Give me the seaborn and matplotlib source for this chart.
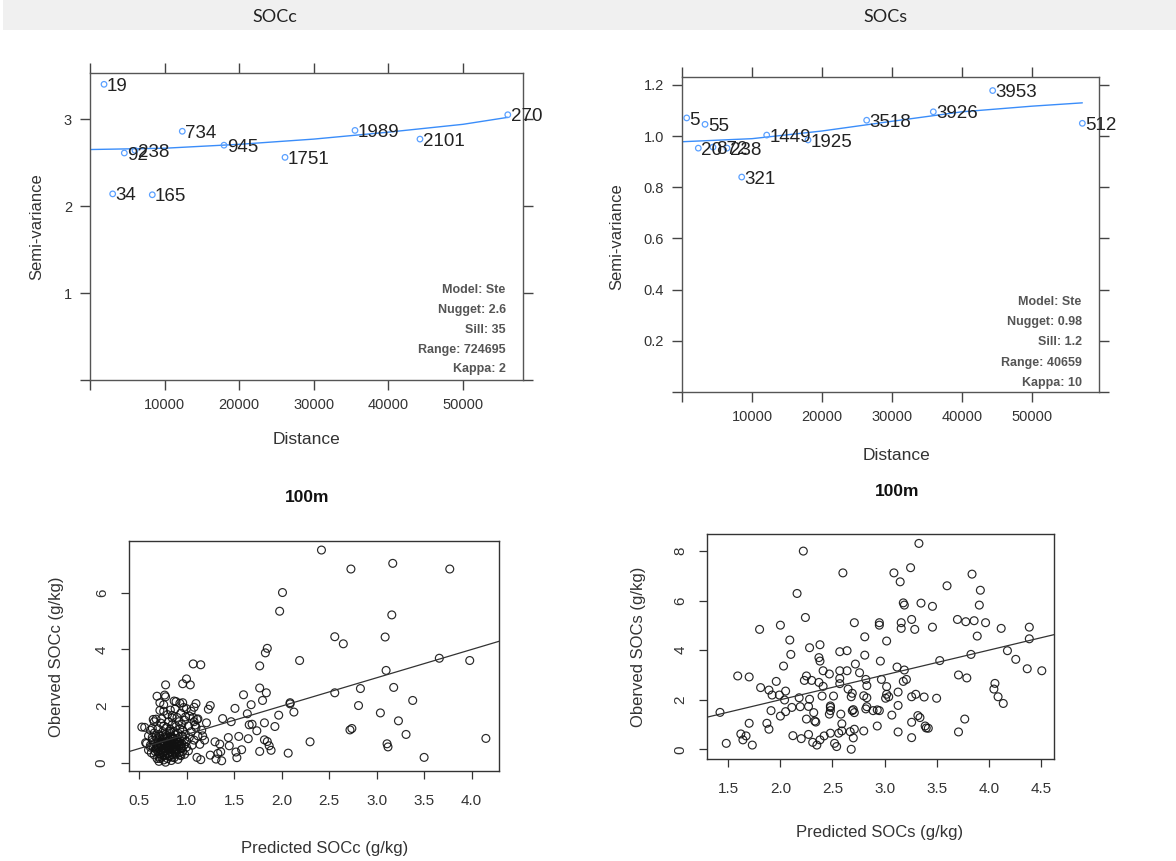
import numpy as np
import pandas as pd
import matplotlib
matplotlib.use("Agg")
import matplotlib.pyplot as plt
from matplotlib.patches import Rectangle
import seaborn as sns

# ---------------- DATA ----------------
panel_titles = ["SOCc", "SOCs"]

# Variogram SOCc
vc_dist = [1880, 3040, 4600, 6030, 8350, 12370, 17960, 26140, 35520, 44230, 56000]
vc_gamma = [3.40, 2.14, 2.61, 2.64, 2.13, 2.86, 2.70, 2.56, 2.87, 2.77, 3.05]
vc_npairs = ["19", "34", "92", "238", "165", "734", "945", "1751", "1989", "2101", "270"]
vc_model_x = [0, 10000, 20000, 30000, 40000, 50000, 56000]
vc_model_y = [2.65, 2.665, 2.71, 2.77, 2.85, 2.94, 3.02]
vc_info = ["Model: Ste", "Nugget: 2.6", "Sill: 35", "Range: 724695", "Kappa: 2"]

# Variogram SOCs
vs_dist = [670, 3290, 2330, 4430, 6430, 8530, 12100, 18000, 26380, 35900, 44380, 57190]
vs_gamma = [1.071, 1.046, 0.953, 0.957, 0.953, 0.84, 1.004, 0.985, 1.062, 1.095, 1.178, 1.05]
vs_npairs = ["5", "55", "20", "872", "238", "321", "1449", "1925", "3518", "3926", "3953", "512"]
vs_model_x = [0, 10000, 20000, 30000, 40000, 50000, 57190]
vs_model_y = [0.978, 0.99, 1.02, 1.058, 1.095, 1.117, 1.13]
vs_info = ["Model: Ste", "Nugget: 0.98", "Sill: 1.2", "Range: 40659", "Kappa: 10"]

dist_ticks = [10000, 20000, 30000, 40000, 50000]

# Observed vs predicted SOCc
socc_pred = [2.42, 3.17, 2.73, 3.77, 2.01, 1.98, 3.16, 2.56, 2.65, 3.09, 1.85, 1.83, 2.19, 3.66, 3.98,
             3.10, 1.07, 1.15, 1.77, 1.00, 0.96, 1.04, 0.78, 1.77, 1.84, 1.60, 2.56, 2.83, 3.18, 3.38,
             1.80, 2.09, 2.09, 1.68, 2.81, 1.25, 1.23, 1.51, 2.13, 3.04, 1.97, 1.64, 1.38, 1.47, 3.23,
             1.82, 1.21, 1.66, 1.69, 1.93, 1.74, 2.72, 2.74, 3.31, 1.55, 1.44, 1.65, 1.82, 1.85, 1.30,
             1.35, 2.30, 3.11, 3.12, 4.15, 1.45, 1.87, 1.58, 1.89, 1.77, 2.07, 1.52, 1.33, 1.36, 1.25,
             1.53, 3.50, 1.11, 1.15, 1.31, 1.37, 1.19, 1.17, 1.09, 1.11, 1.07, 1.10, 1.08, 0.87, 0.89,
             0.96, 0.69, 0.77, 0.78, 0.72, 0.65, 0.68, 0.53, 0.56, 0.57, 0.76, 0.83, 0.85, 1.00, 1.03,
             0.60, 0.62, 0.63, 0.64, 0.65, 0.66, 0.66, 0.67, 0.68, 0.68, 0.69, 0.69, 0.70, 0.70, 0.70,
             0.71, 0.71, 0.72, 0.72, 0.72, 0.73, 0.73, 0.74, 0.74, 0.74, 0.75, 0.75, 0.75, 0.76, 0.76,
             0.76, 0.77, 0.77, 0.77, 0.78, 0.78, 0.78, 0.79, 0.79, 0.79, 0.80, 0.80, 0.80, 0.81, 0.81,
             0.81, 0.82, 0.82, 0.82, 0.83, 0.83, 0.83, 0.84, 0.84, 0.84, 0.85, 0.85, 0.85, 0.86, 0.86,
             0.87, 0.87, 0.87, 0.88, 0.88, 0.88, 0.89, 0.89, 0.90, 0.90, 0.90, 0.91, 0.91, 0.92, 0.92,
             0.93, 0.93, 0.94, 0.94, 0.95, 0.95, 0.96, 0.96, 0.97, 0.98, 0.98, 0.99, 1.00, 1.00, 1.02,
             1.03, 1.05, 1.06, 1.08, 1.10, 1.12, 1.14, 1.16, 0.74, 0.66, 0.64, 0.62, 0.58, 0.60, 0.85,
             0.92, 0.95, 0.90, 0.98, 1.02, 0.72, 0.76, 0.80, 0.88, 0.94, 0.97, 0.93, 1.05, 0.99, 1.08,
             1.12, 0.67, 0.69, 0.71, 0.73, 0.75, 0.77, 0.79, 0.81, 0.83, 0.85, 0.87, 0.89, 0.91, 0.93,
             0.70, 0.72, 0.74, 0.76, 0.78, 0.80, 0.82, 0.84, 0.86, 0.88, 0.90, 0.92, 0.68, 0.73, 0.77,
             0.81, 0.86, 0.89, 0.94, 0.96, 0.71, 0.75, 0.79, 0.83, 0.87, 0.91, 0.95, 0.62, 0.64]
socc_obs = [7.51, 7.04, 6.84, 6.84, 6.01, 5.35, 5.22, 4.45, 4.20, 4.44, 4.04, 3.88, 3.61, 3.69, 3.61,
            3.26, 3.49, 3.46, 3.42, 2.96, 2.79, 2.75, 2.75, 2.64, 2.47, 2.40, 2.47, 2.62, 2.66, 2.20,
            2.20, 2.12, 2.08, 2.05, 2.02, 2.02, 1.89, 1.92, 1.79, 1.76, 1.68, 1.73, 1.56, 1.45, 1.48,
            1.41, 1.41, 1.34, 1.36, 1.28, 1.13, 1.16, 1.21, 1.00, 0.93, 0.89, 0.85, 0.81, 0.75, 0.74,
            0.66, 0.74, 0.67, 0.56, 0.86, 0.60, 0.60, 0.46, 0.44, 0.40, 0.34, 0.38, 0.33, 0.39, 0.27,
            0.18, 0.19, 0.19, 0.11, 0.13, 0.07, 0.80, 0.95, 1.33, 1.53, 1.60, 2.09, 1.96, 2.18, 2.16,
            2.12, 2.35, 2.39, 2.33, 2.12, 1.53, 1.54, 1.26, 1.25, 0.71, 1.82, 1.86, 1.67, 1.91, 1.65,
            0.45, 0.62, 0.35, 0.80, 0.55, 1.05, 0.28, 0.70, 0.48, 0.92, 0.15, 0.60, 0.38, 1.20, 0.78,
            0.05, 0.52, 0.95, 0.30, 0.66, 1.40, 0.45, 0.20, 0.85, 0.58, 1.10, 0.35, 0.72, 0.10, 0.50,
            1.30, 0.90, 0.25, 0.62, 0.42, 1.00, 0.02, 0.75, 0.55, 1.25, 0.32, 0.88, 0.15, 0.65, 1.45,
            0.45, 1.05, 0.22, 0.80, 0.58, 0.38, 1.18, 0.70, 0.08, 0.95, 0.48, 0.28, 1.35, 0.62, 0.85,
            0.40, 1.10, 0.18, 0.72, 0.55, 0.98, 0.30, 1.28, 0.65, 0.45, 0.85, 0.12, 1.05, 0.58, 0.35,
            0.78, 1.20, 0.50, 0.25, 0.95, 0.68, 0.40, 1.15, 0.60, 0.82, 0.30, 1.00, 0.55, 0.75, 0.42,
            0.90, 1.10, 0.62, 0.80, 1.25, 0.95, 0.65, 1.15, 1.55, 1.45, 1.22, 1.15, 0.68, 0.95, 1.58,
            1.45, 1.35, 1.60, 1.50, 1.30, 1.85, 2.05, 1.70, 1.90, 1.75, 1.95, 2.10, 1.82, 1.62, 1.45,
            1.55, 0.40, 0.85, 0.22, 0.65, 0.95, 0.42, 0.60, 0.35, 0.90, 0.20, 0.68, 0.48, 0.75, 0.28,
            0.58, 0.15, 0.78, 0.38, 0.52, 0.70, 0.26, 0.47, 0.88, 0.36, 0.58, 0.72, 0.55, 0.62, 0.68,
            0.52, 0.75, 0.40, 0.62, 0.92, 1.00, 0.28, 0.85, 1.12, 0.48, 0.66, 0.52, 0.55, 0.90]

# Observed vs predicted SOCs
socs_pred = [3.33, 2.22, 2.60, 3.09, 3.25, 3.84, 3.15, 2.16, 3.60, 3.92, 3.18, 3.19, 3.35, 3.46, 3.91,
             2.24, 3.26, 3.70, 3.78, 3.86, 3.97, 2.71, 2.95, 2.95, 3.16, 3.16, 3.29, 3.46, 4.12, 4.39,
             1.80, 2.00, 3.89, 4.39, 2.81, 2.09, 3.02, 2.38, 2.28, 2.57, 2.64, 4.18, 2.10, 2.81, 3.83,
             4.26, 3.53, 2.37, 2.38, 2.96, 2.72, 2.03, 3.12, 4.37, 4.51, 2.41, 2.57, 2.64, 3.19, 1.59,
             1.70, 2.25, 2.47, 2.76, 3.71, 3.79, 2.97, 2.57, 3.18, 3.21, 2.23, 2.30, 2.37, 1.96, 2.82,
             2.83, 2.57, 1.81, 1.89, 2.05, 2.41, 2.65, 3.02, 4.06, 4.05, 1.92, 1.99, 2.18, 2.40, 2.51,
             2.69, 2.68, 2.80, 2.83, 3.02, 3.01, 3.04, 3.13, 3.30, 3.26, 3.38, 3.50, 4.09, 4.14, 2.04,
             2.28, 2.48, 2.48, 2.27, 2.11, 2.19, 2.48, 2.47, 2.05, 1.91, 2.69, 2.70, 2.71, 2.82, 2.83,
             2.89, 2.93, 2.95, 3.13, 2.32, 2.00, 3.07, 2.58, 3.32, 3.34, 1.42, 1.70, 1.87, 3.77, 2.25,
             2.33, 2.34, 2.59, 3.26, 1.89, 1.62, 1.67, 1.64, 2.93, 3.39, 3.40, 3.42, 3.13, 3.71, 2.80,
             2.71, 2.67, 2.70, 2.59, 2.56, 2.48, 2.42, 2.38, 2.27, 2.20, 2.12, 2.31, 2.35, 2.52, 2.54,
             3.26, 2.68, 1.48, 1.73]
socs_obs = [8.31, 8.00, 7.12, 7.12, 7.33, 7.07, 6.76, 6.29, 6.60, 6.42, 5.91, 5.82, 5.90, 5.77, 5.82,
            5.32, 5.24, 5.24, 5.15, 5.19, 5.11, 5.11, 5.11, 5.01, 5.11, 4.88, 4.84, 4.93, 4.88, 4.93,
            4.84, 5.01, 4.57, 4.46, 4.54, 4.41, 4.37, 4.22, 4.10, 3.94, 3.98, 3.98, 3.83, 3.80, 3.83,
            3.63, 3.58, 3.70, 3.56, 3.56, 3.44, 3.36, 3.32, 3.25, 3.17, 3.17, 3.17, 3.17, 3.20, 2.96,
            2.92, 2.96, 3.04, 3.09, 3.00, 2.88, 2.82, 2.86, 2.74, 2.82, 2.78, 2.78, 2.70, 2.74, 2.82,
            2.57, 2.65, 2.49, 2.39, 2.35, 2.54, 2.43, 2.53, 2.66, 2.43, 2.19, 2.19, 2.08, 2.15, 2.15,
            2.26, 2.12, 2.16, 2.08, 2.22, 2.06, 2.12, 2.31, 2.22, 2.12, 2.11, 2.06, 2.12, 1.85, 1.99,
            2.02, 1.75, 1.69, 1.73, 1.69, 1.72, 1.56, 1.42, 1.52, 1.56, 1.56, 1.60, 1.48, 1.63, 1.72,
            1.56, 1.59, 1.56, 1.77, 1.48, 1.34, 1.38, 1.42, 1.36, 1.28, 1.49, 1.05, 1.05, 1.22, 1.22,
            1.14, 1.10, 1.03, 1.09, 0.81, 0.62, 0.54, 0.38, 0.94, 0.94, 0.86, 0.85, 0.70, 0.70, 0.74,
            0.81, 0.71, 0.46, 0.74, 0.65, 0.65, 0.54, 0.38, 0.60, 0.43, 0.55, 0.28, 0.17, 0.24, 0.11,
            0.47, 0.00, 0.24, 0.17]

socc_xticks = [0.5, 1.0, 1.5, 2.0, 2.5, 3.0, 3.5, 4.0]
socc_yticks = [0, 2, 4, 6]
socs_xticks = [1.5, 2.0, 2.5, 3.0, 3.5, 4.0, 4.5]
socs_yticks = [0, 2, 4, 6, 8]

# ---------------- FIGURE ----------------
W, H = 1176, 861
sns.set_style("white")
plt.rcParams["font.family"] = ["Liberation Sans", "DejaVu Sans"]
fig = plt.figure(figsize=(W / 100, H / 100), dpi=100)


def fx(px):
    return px / W


def fy(py):
    return 1 - py / H


# header bar
fig.patches.append(Rectangle((fx(3), fy(30)), 1 - fx(3), 30 / H, transform=fig.transFigure,
                             facecolor="#f0f0f0", edgecolor="none", zorder=0))
fig.text(fx(275), fy(17), panel_titles[0], ha="center", va="center", fontsize=13,
         family=["Lato", "DejaVu Sans"], color="#222222")
fig.text(fx(885), fy(17), panel_titles[1], ha="center", va="center", fontsize=13,
         family=["Lato", "DejaVu Sans"], color="#222222")


def axes_px(l, t, r, b):
    return fig.add_axes([fx(l), fy(b), (r - l) / W, (b - t) / H])


LAT = "#333333"


def variogram(ax, dist, gamma, npairs, mx, my, info, xlim, ylim, yticks, yticklabels, info_x, info_ys):
    sns.lineplot(x=mx, y=my, ax=ax, color="#3a8dfa", linewidth=1.0, sort=False, estimator=None)
    sns.scatterplot(x=dist, y=gamma, ax=ax, marker="o", s=16, facecolor="none",
                    edgecolor="#5aa0ff", linewidth=0.9, zorder=3)
    for d, g, n in zip(dist, gamma, npairs):
        ax.annotate(n, (d, g), xytext=(2, -1.5), textcoords="offset points", ha="left", va="center",
                    fontsize=13.5, color="#222222", zorder=4)
    ax.set_xlim(*xlim)
    ax.set_ylim(*ylim)
    ax.set_xticks([0] + dist_ticks)
    ax.set_xticklabels([""] + [str(t) for t in dist_ticks])
    ax.set_yticks(yticks)
    ax.set_yticklabels(yticklabels)
    ax.tick_params(axis="both", which="both", direction="out", length=7, width=1, color="#444444",
                   labelsize=10.5, labelcolor=LAT, top=True, right=True, bottom=True, left=True,
                   labeltop=False, labelright=False)
    ax.tick_params(axis="x", pad=6)
    ax.tick_params(axis="y", pad=6)
    for s in ax.spines.values():
        s.set_color("#555555")
        s.set_linewidth(1.0)
    for txt, yy in zip(info, info_ys):
        ax.text(info_x, yy, txt, transform=ax.transAxes, ha="right", va="center", fontsize=9,
                fontweight="bold", color="#555555")
    ax.set_xlabel("")
    ax.set_ylabel("")


ax1 = axes_px(90, 73, 523, 380)
variogram(ax1, vc_dist, vc_gamma, vc_npairs, vc_model_x, vc_model_y, vc_info,
          (0, 58040), (0, 3.53), [0, 1, 2, 3], ["", "1", "2", "3"],
          0.960, [0.293, 0.228, 0.163, 0.098, 0.036])
fig.text(fx(37), fy(227), "Semi-variance", rotation=90, ha="center", va="center", fontsize=12, color=LAT)
fig.text(fx(307), fy(440), "Distance", ha="center", va="center", fontsize=12.5, color=LAT)

ax2 = axes_px(682, 77, 1099, 392)
variogram(ax2, vs_dist, vs_gamma, vs_npairs, vs_model_x, vs_model_y, vs_info,
          (0, 59570), (0, 1.231), [0, 0.2, 0.4, 0.6, 0.8, 1.0, 1.2],
          ["", "0.2", "0.4", "0.6", "0.8", "1.0", "1.2"],
          0.9585, [0.287, 0.221, 0.158, 0.093, 0.030])
fig.text(fx(617), fy(237), "Semi-variance", rotation=90, ha="center", va="center", fontsize=12, color=LAT)
fig.text(fx(897), fy(455), "Distance", ha="center", va="center", fontsize=12.5, color=LAT)

fig.text(fx(307), fy(498), "100m", ha="center", va="center", fontsize=12.5, fontweight="bold", color="#111111")
fig.text(fx(897), fy(492), "100m", ha="center", va="center", fontsize=12.5, fontweight="bold", color="#111111")


def obs_pred(ax, pred, obs, xlim, ylim, xticks, yticks):
    df = pd.DataFrame({"pred": pred, "obs": obs})
    sns.scatterplot(data=df, x="pred", y="obs", ax=ax, marker="o", s=32, facecolor="none",
                    edgecolor="#111111", linewidth=0.85, alpha=0.9)
    ax.axline((0, 0), slope=1, color="#333333", linewidth=0.9)
    ax.set_xlim(*xlim)
    ax.set_ylim(*ylim)
    ax.set_xticks(xticks)
    ax.set_xticklabels([f"{t:.1f}" for t in xticks])
    ax.set_yticks(yticks)
    ax.set_yticklabels([str(t) for t in yticks], rotation=90, va="center")
    ax.tick_params(axis="both", direction="out", length=5.5, width=0.9, color="#333333",
                   labelsize=11, labelcolor="#333333", bottom=True, left=True)
    ax.tick_params(axis="x", pad=11)
    ax.tick_params(axis="y", pad=9)
    for s in ax.spines.values():
        s.set_color("#333333")
        s.set_linewidth(1.0)
    ax.set_xlabel("")
    ax.set_ylabel("")


ax3 = axes_px(129, 540.7, 499, 770.7)
obs_pred(ax3, socc_pred, socc_obs, (0.395, 4.288), (-0.28, 7.84), socc_xticks, socc_yticks)
fig.text(fx(57), fy(657), "Oberved SOCc (g/kg)", rotation=90, ha="center", va="center", fontsize=12, color="#333333")
fig.text(fx(325), fy(848), "Predicted SOCc (g/kg)", ha="center", va="center", fontsize=12, color="#333333")

ax4 = axes_px(707.3, 534, 1054.3, 758.7)
obs_pred(ax4, socs_pred, socs_obs, (1.298, 4.63), (-0.38, 8.69), socs_xticks, socs_yticks)
fig.text(fx(639), fy(647), "Oberved SOCs (g/kg)", rotation=90, ha="center", va="center", fontsize=12, color="#333333")
fig.text(fx(880), fy(832), "Predicted SOCs (g/kg)", ha="center", va="center", fontsize=12, color="#333333")

fig.savefig("out.png", dpi=100)
